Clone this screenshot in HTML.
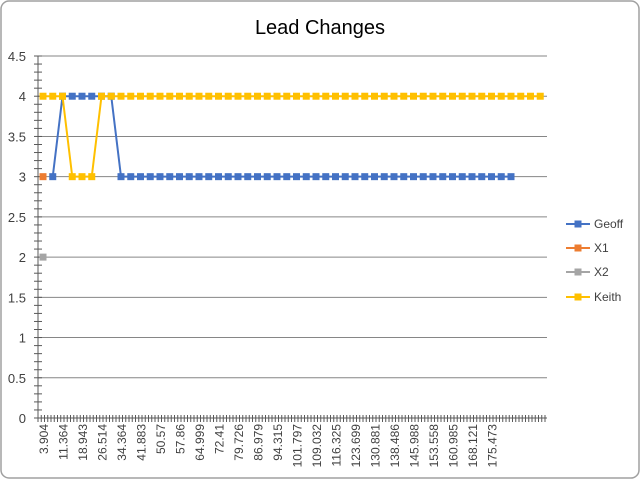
<!DOCTYPE html>
<html><head><meta charset="utf-8"><style>
body{margin:0;background:#fff;}
#wrap{position:relative;width:641px;height:480px;font-family:"Liberation Sans",sans-serif;}
</style></head><body>
<div id="wrap">
<svg id="chart" width="641" height="480" xmlns="http://www.w3.org/2000/svg">
<rect x="1" y="1" width="638" height="477" rx="8" fill="#fff" stroke="#a0a0a0" stroke-width="1.5"/>
<text x="320" y="34" text-anchor="middle" font-size="20" fill="#000">Lead Changes</text>
<g id="grid"></g><g id="axes"></g><g id="series"></g><g id="legend"></g>
</svg>
</div>
<script>
const xLabels=["3.904","11.364","18.943","26.514","34.364","41.883","50.57","57.86","64.999","72.41","79.726","86.979","94.315","101.797","109.032","116.325","123.699","130.881","138.486","145.988","153.558","160.985","168.121","175.473"];
const yTicks=[0,0.5,1,1.5,2,2.5,3,3.5,4,4.5];
const geoff=[null,3,4,4,4,4,4,4,3,3,3,3,3,3,3,3,3,3,3,3,3,3,3,3,3,3,3,3,3,3,3,3,3,3,3,3,3,3,3,3,3,3,3,3,3,3,3,3,3];
const x1=[3];
const x2=[2];
const keith=[4,4,4,3,3,3,4,4,4,4,4,4,4,4,4,4,4,4,4,4,4,4,4,4,4,4,4,4,4,4,4,4,4,4,4,4,4,4,4,4,4,4,4,4,4,4,4,4,4,4,4,4];
const seriesNames=["Geoff","X1","X2","Keith"];
const seriesColors=["#4472c4","#ed7d31","#a5a5a5","#ffc000"];
const NS="http://www.w3.org/2000/svg";
const left=38,right=547,y0=418,yTop=56,yMax=4.5,step=9.75,x0=43;
const X=i=>x0+i*step;
const Y=v=>y0-(v/yMax)*(y0-yTop);
function mk(tag,attrs,parent){const e=document.createElementNS(NS,tag);for(const k in attrs)e.setAttribute(k,attrs[k]);parent.appendChild(e);return e;}
const grid=document.getElementById('grid'),axes=document.getElementById('axes'),ser=document.getElementById('series'),leg=document.getElementById('legend');
yTicks.forEach(v=>{
 const l=mk('line',{x1:left,x2:right,y1:Y(v),y2:Y(v),stroke:v===0?'#595959':'#868686','stroke-width':1},grid);
 
 
 const t=mk('text',{x:26,y:Y(v)+5,'text-anchor':'end','font-size':13,fill:'#404040'},axes);
 t.textContent=String(v);
 
 
});
const ya=mk('line',{x1:left,x2:left,y1:yTop,y2:y0,stroke:'#595959'},axes);


for(let v=0;v<=45;v++){mk('line',{x1:left-4,x2:left+4,y1:Y(v/10),y2:Y(v/10),stroke:'#595959'},axes);}
for(let x=left;x<=right;x+=3.25){mk('line',{x1:x,x2:x,y1:y0-3,y2:y0+4,stroke:'#595959'},axes);}
xLabels.forEach((s,i)=>{
 const x=X(i*2);
 const t=mk('text',{x:x+5,y:424,'text-anchor':'end','font-size':12,fill:'#404040',transform:`rotate(-90 ${x+5} 424)`},axes);
 t.textContent=s;
 
 
});
[geoff,x1,x2,keith].forEach((d,si)=>{
 const g=mk('g',{},ser);
 
 
 let pts=[];d.forEach((v,i)=>{if(v!==null)pts.push([X(i),Y(v)]);});
 if(pts.length>1)mk('polyline',{points:pts.map(p=>p.join(',')).join(' '),fill:'none',stroke:seriesColors[si],'stroke-width':2},g);
 pts.forEach(p=>{const r=mk('rect',{x:p[0]-3.5,y:p[1]-3.5,width:7,height:7,fill:seriesColors[si]},g);
  
  });
});
const ly=[224,248,272,297];
seriesNames.forEach((n,i)=>{
 const g=mk('g',{},leg);
 
 
 mk('line',{x1:566,x2:590,y1:ly[i],y2:ly[i],stroke:seriesColors[i],'stroke-width':2},g);
 mk('rect',{x:574.5,y:ly[i]-3.5,width:7,height:7,fill:seriesColors[i]},g);
 const t=mk('text',{x:594,y:ly[i]+4,'font-size':12,fill:'#404040'},g);t.textContent=n;
});
// the second and later legend entries are placed so the visible order matches the reference
</script>
</body></html>
